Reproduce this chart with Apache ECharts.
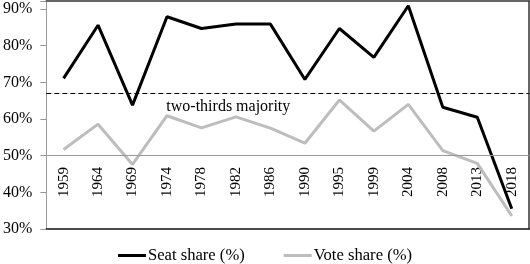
<!DOCTYPE html>
<html>
<head>
<meta charset="utf-8">
<script src="https://cdn.jsdelivr.net/npm/echarts@6/dist/echarts.min.js"></script>
<style>html,body{margin:0;padding:0;background:#fff}#c{width:530px;height:264px}</style>
</head>
<body>
<div id="c"></div>
<script>
const years = ['1959','1964','1969','1974','1978','1982','1986','1990','1995','1999','2004','2008','2013','2018'];
const seatShare = [71.1, 85.6, 63.8, 87.9, 84.7, 85.9, 85.9, 70.8, 84.7, 76.8, 90.9, 63.2, 60.5, 35.5];
const voteShare = [51.7, 58.6, 47.6, 60.9, 57.6, 60.6, 57.5, 53.4, 65.2, 56.7, 64.0, 51.4, 47.9, 33.6];
const majorityLine = 67;
const baseLine = 50;
const majorityLabel = 'two-thirds majority';

const serif = '"Liberation Serif", "DejaVu Serif", serif';
const chart = echarts.init(document.getElementById('c'));
chart.setOption({
  animation: false,
  grid: {left: 45, right: 1, top: 1, bottom: 35, containLabel: false},
  legend: {
    bottom: -5, left: 'center',
    icon: 'rect', itemWidth: 28, itemHeight: 3, itemGap: 39,
    textStyle: {fontFamily: serif, fontSize: 16.6, color: '#000', padding: [0, 0, 0, -3]},
    data: ['Seat share (%)', 'Vote share (%)']
  },
  xAxis: [{
    type: 'category', data: years, boundaryGap: true, position: 'bottom',
    axisLine: {show: true, lineStyle: {color: '#111', width: 1.5}},
    axisTick: {show: false},
    axisLabel: {rotate: 90, margin: -62, fontFamily: serif, fontSize: 15, color: '#000', interval: 0}
  }, {
    type: 'category', data: years, position: 'top',
    axisLine: {show: true, lineStyle: {color: '#333', width: 1.5}},
    axisTick: {show: false}, axisLabel: {show: false}
  }],
  yAxis: [{
    type: 'value', min: 30, max: 92.2, interval: 10,
    axisLine: {show: true, lineStyle: {color: '#999', width: 1}},
    axisTick: {show: true, length: 6, lineStyle: {color: '#999'}},
    splitLine: {show: false},
    axisLabel: {margin: 14, fontFamily: serif, fontSize: 16, color: '#000',
      formatter: v => (Math.abs(v % 10) < 1e-6 ? v + '%' : '')}
  }, {
    type: 'value', min: 30, max: 92.2, position: 'right',
    axisLine: {show: true, lineStyle: {color: '#333', width: 1.5}},
    axisTick: {show: false}, axisLabel: {show: false}, splitLine: {show: false}
  }],
  series: [{
    name: 'Seat share (%)', type: 'line', data: seatShare,
    symbol: 'none', z: 3,
    lineStyle: {color: '#000', width: 3}, itemStyle: {color: '#000'},
    markLine: {
      silent: true, symbol: 'none',
      lineStyle: {color: '#000', type: [5, 3], width: 1.2},
      label: {show: true, position: 'insideStartBottom', distance: [120, 5],
        formatter: majorityLabel, fontFamily: serif, fontSize: 16, color: '#000'},
      data: [{yAxis: majorityLine}]
    }
  }, {
    name: 'Vote share (%)', type: 'line', data: voteShare,
    symbol: 'none', z: 2,
    lineStyle: {color: '#bdbdbd', width: 3}, itemStyle: {color: '#bdbdbd'},
    markLine: {
      silent: true, symbol: 'none',
      lineStyle: {color: '#999', type: 'solid', width: 1},
      label: {show: false},
      data: [{yAxis: baseLine}]
    }
  }]
});
</script>
</body>
</html>
